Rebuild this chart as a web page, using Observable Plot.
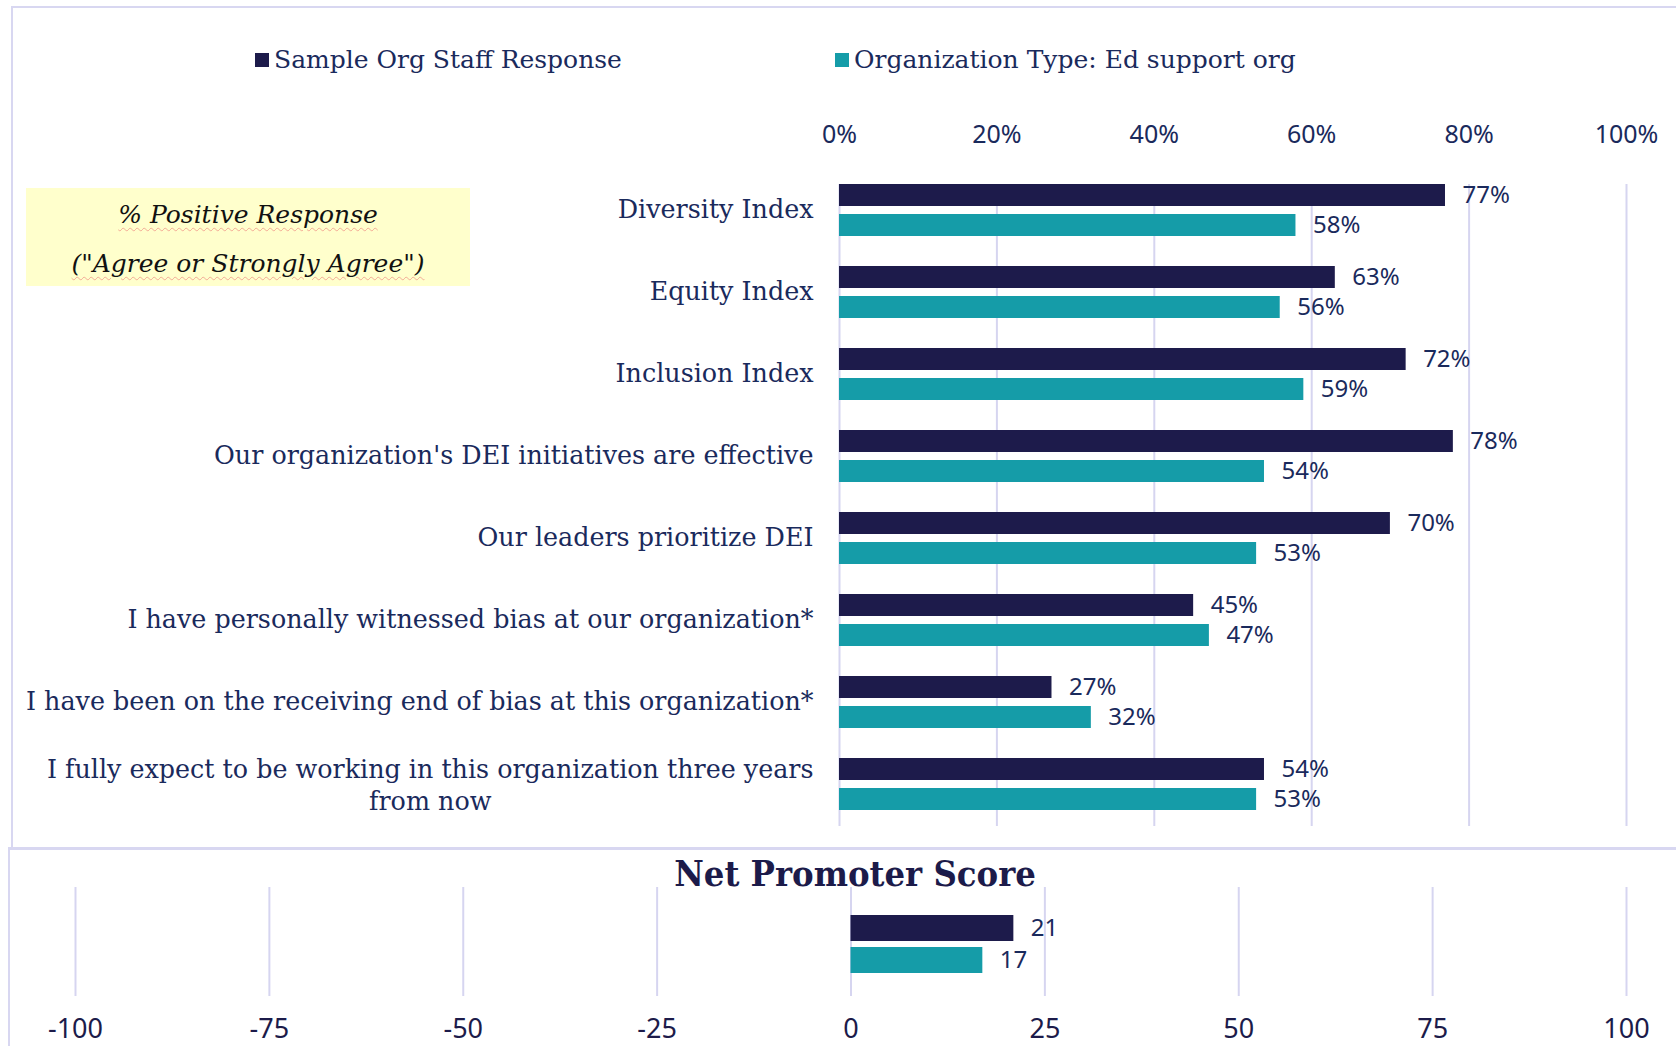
<!DOCTYPE html>
<html><head><meta charset="utf-8">
<script src="https://cdn.jsdelivr.net/npm/d3@7"></script>
<script src="https://cdn.jsdelivr.net/npm/@observablehq/plot@0.6"></script>
<style>
body{margin:0;background:#fff;}
#page{position:relative;width:1676px;height:1046px;overflow:hidden;background:#fff;
  font-family:"DejaVu Serif",serif;color:#1a2a5c;}
.abs{position:absolute;}
.line{position:absolute;background:#d8d7f1;}
.legend{position:absolute;top:44px;font-size:25px;line-height:32px;white-space:nowrap;display:flex;align-items:center;}
.sw{display:inline-block;width:14px;height:14px;margin-right:5px;}
#note{left:26px;top:188px;width:444px;height:98px;background:#ffffcc;color:#111;font-style:italic;font-size:25px;text-align:center;}
#note div{position:absolute;left:0;right:0;}
#note span{text-decoration:underline wavy rgba(235,110,110,0.55);text-decoration-thickness:1px;text-underline-offset:4px;}
#npsTitle{left:0;width:1710px;top:852px;text-align:center;font-weight:bold;font-size:36px;font-family:"DejaVu Serif Condensed","DejaVu Serif",serif;font-stretch:condensed;color:#1c1b4a;z-index:2;}
</style></head><body><div id="page">
<div class="line" style="left:11px;top:6px;width:1665px;height:2px"></div>
<div class="line" style="left:11px;top:6px;width:2px;height:842px"></div>
<div class="line" style="left:8px;top:847px;width:1668px;height:3px"></div>
<div class="line" style="left:8px;top:848px;width:2px;height:198px"></div>
<div id="legend1" class="legend" style="left:255px"></div>
<div id="legend2" class="legend" style="left:835px"></div>
<div id="note" class="abs"><div style="top:12px"><span>% Positive Response</span></div><div style="top:61px"><span>("Agree or Strongly Agree")</span></div></div>
<div id="topChart" class="abs" style="left:0;top:100px"></div>
<div id="npsTitle" class="abs">Net Promoter Score</div>
<div id="bottomChart" class="abs" style="left:0;top:860px"></div>
</div>
<script>
// ---- data ----
const categories = [
  "Diversity Index",
  "Equity Index",
  "Inclusion Index",
  "Our organization's DEI initiatives are effective",
  "Our leaders prioritize DEI",
  "I have personally witnessed bias at our organization*",
  "I have been on the receiving end of bias at this organization*",
  "I fully expect to be working in this organization three years from now"
];
const staffResponse = [77, 63, 72, 78, 70, 45, 27, 54];
const orgTypeResponse = [58, 56, 59, 54, 53, 47, 32, 53];
const seriesNames = ["Sample Org Staff Response", "Organization Type: Ed support org"];
const npsValues = [21, 17];
const percentTicks = [0, 20, 40, 60, 80, 100];
const npsTicks = [-100, -75, -50, -25, 0, 25, 50, 75, 100];

// ---- styles ----
const dark = "#1d1b4b";
const teal = "#159ca8";
const textColor = "#1a2a5c";
const gridColor = "#d6d5f0";
const slab = "'DejaVu Serif',serif";
const sans = "'Noto Sans',sans-serif";

// legend
[["legend1", dark, seriesNames[0]], ["legend2", teal, seriesNames[1]]].forEach(([id, c, t]) => {
  const el = document.getElementById(id);
  const sw = document.createElement("span"); sw.className = "sw"; sw.style.background = c;
  el.appendChild(sw); el.appendChild(document.createTextNode(t));
});

const rows = categories.map((c, i) => ({category: c, staff: staffResponse[i], org: orgTypeResponse[i]}));
const wrapLabel = d => d === categories[7] ? "I fully expect to be working in this organization three years\nfrom now" : d;

const topPlot = Plot.plot({
  width: 1676, height: 740,
  marginLeft: 839, marginRight: 50, marginTop: 84, marginBottom: 14,
  style: {fontFamily: slab, fontSize: "25px", color: textColor, background: "transparent", overflow: "visible"},
  x: {domain: [0, 100], label: null},
  y: {domain: categories, paddingInner: 0.367, paddingOuter: 0.089, align: 0, label: null},
  marks: [
    Plot.gridX(percentTicks, {stroke: gridColor, strokeOpacity: 1, strokeWidth: 2}),
    Plot.axisX(percentTicks, {anchor: "top", label: null, tickSize: 0, tickPadding: 42, tickFormat: d => d + "%", fontFamily: sans, fontSize: 25, fill: textColor}),
    Plot.axisY({label: null, tickSize: 0, tickPadding: 26, dy: -3, tickFormat: wrapLabel, lineHeight: 1.25, fill: textColor, fontSize: 25.4}),
    Plot.barX(rows, {x: "staff", y: "category", fill: dark, insetBottom: 30}),
    Plot.barX(rows, {x: "org", y: "category", fill: teal, insetTop: 30}),
    Plot.text(rows, {x: "staff", y: "category", text: d => d.staff + "%", dy: -15, dx: 17, textAnchor: "start", fill: textColor, fontFamily: sans, fontSize: 24}),
    Plot.text(rows, {x: "org", y: "category", text: d => d.org + "%", dy: 15, dx: 17, textAnchor: "start", fill: textColor, fontFamily: sans, fontSize: 24})
  ]
});
document.getElementById("topChart").appendChild(topPlot);

// center the wrapped multi-line label
topPlot.querySelectorAll("text").forEach(t => {
  const ts = t.querySelectorAll("tspan");
  if (ts.length > 1) {
    const w = ts[0].getComputedTextLength();
    t.setAttribute("text-anchor", "middle");
    t.setAttribute("transform", `translate(${-w / 2},2) ` + (t.getAttribute("transform") || ""));
  }
});

const npsRows = seriesNames.map((s, i) => ({series: s, value: npsValues[i]}));
const bottomPlot = Plot.plot({
  width: 1676, height: 186,
  marginLeft: 75, marginRight: 50, marginTop: 27, marginBottom: 50,
  style: {fontFamily: sans, fontSize: "24px", color: textColor, background: "transparent", overflow: "visible"},
  x: {domain: [-100, 100], label: null},
  y: {domain: seriesNames, paddingInner: 0.18, paddingOuter: 0.742, align: 0.55, axis: null},
  color: {domain: seriesNames, range: [dark, teal]},
  marks: [
    Plot.gridX(npsTicks, {stroke: gridColor, strokeOpacity: 1, strokeWidth: 2}),
    Plot.axisX(npsTicks, {anchor: "bottom", label: null, tickSize: 0, tickPadding: 22, fill: "#1c1b4a", fontSize: 27, tickFormat: d => String(d)}),
    Plot.barX(npsRows, {x: "value", y: "series", fill: "series"}),
    Plot.text(npsRows, {x: "value", y: "series", text: d => String(d.value), dx: 17, textAnchor: "start", fill: textColor, fontSize: 24})
  ]
});
document.getElementById("bottomChart").appendChild(bottomPlot);
</script>
</body></html>
